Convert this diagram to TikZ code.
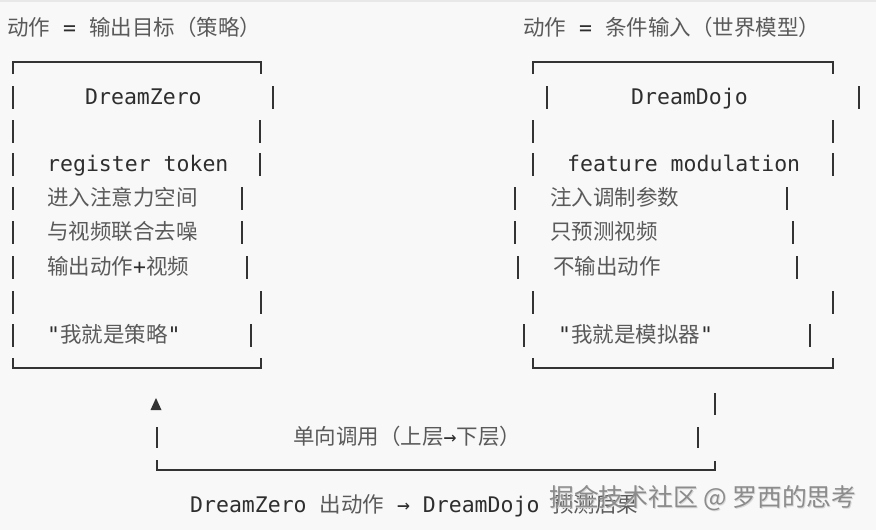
\documentclass[tikz,border=0pt]{standalone}
\usepackage{fontspec}
\setmonofont{DejaVu Sans Mono}
\newfontfamily\cjk{Noto Sans CJK SC}
\definecolor{bgc}{HTML}{F8F8F8}
\definecolor{topc}{HTML}{E8E8E8}
\definecolor{cjkc}{HTML}{5A5A5A}
\definecolor{latc}{HTML}{2E2E2E}
\definecolor{linec}{HTML}{333333}
\definecolor{wmc}{HTML}{8C8C8C}
\definecolor{wms}{HTML}{D8D8D8}
\newcommand\ZH[1]{{\cjk\color{cjkc}\relax#1}}
\newcommand\MO[1]{{\ttfamily\color{latc}\relax#1}}
\tikzset{
  txt/.style={anchor=base west, inner sep=0pt, font=\fontsize{21.5}{24}\selectfont},
  boxline/.style={draw=linec, line width=1.6pt},
  barline/.style={draw=linec, line width=1.1pt},
  wm/.style={anchor=base west, inner sep=0pt, font=\cjk\fontsize{24.8}{28}\selectfont, text=wmc},
  wmshadow/.style={wm, text=wms}
}
\begin{document}
\begin{tikzpicture}[x=1pt,y=-1pt]
\fill[bgc] (0,0) rectangle (876,530);
\useasboundingbox (0,0) rectangle (876,530);
\draw[topc, line width=2pt] (0,1) -- (876,1);

% headers
\node[txt] (hl) at (7,35.5) {\ZH{动作}\MO{ = }\ZH{输出目标（策略）}};
\node[txt] (hr) at (523,35.5) {\ZH{动作}\MO{ = }\ZH{条件输入（世界模型）}};

% left box frame
\draw[boxline] (13,74) -- (13,62) -- (261,62) -- (261,74);
\draw[boxline] (13,358) -- (13,368) -- (261,368) -- (261,358);
% left box bars
\foreach \y/\r in {97/273, 131/260, 164/260, 198/242, 232/242, 267/247, 302/261, 335/251}{
  \draw[barline] (13,\y-11) -- (13,\y+12);
  \draw[barline] (\r,\y-11) -- (\r,\y+12);
}
% left box text
\node[txt] (dz) at (85,104.5) {\MO{DreamZero}};
\node[txt] (rt) at (47,171.5) {\MO{register token}};
\node[txt] (l4) at (47,205.5) {\ZH{进入注意力空间}};
\node[txt] (l5) at (47,239.5) {\ZH{与视频联合去噪}};
\node[txt] (l6) at (47,274.5) {\ZH{输出动作}\MO{+}\ZH{视频}};
\node[txt] (l8) at (47,342.5) {\MO{"}\ZH{我就是策略}\MO{"}};

% right box frame
\draw[boxline] (533,74) -- (533,62) -- (833,62) -- (833,74);
\draw[boxline] (533,358) -- (533,368) -- (833,368) -- (833,358);
% right box bars
\foreach \y/\l/\r in {97/547/859, 131/533/833, 164/533/833, 198/515/787, 232/515/793, 267/518/797, 302/533/833, 335/524/810}{
  \draw[barline] (\l,\y-11) -- (\l,\y+12);
  \draw[barline] (\r,\y-11) -- (\r,\y+12);
}
% right box text
\node[txt] (dd) at (631,104.5) {\MO{DreamDojo}};
\node[txt] (fm) at (567,171.5) {\MO{feature modulation}};
\node[txt] (r4) at (550,205.5) {\ZH{注入调制参数}};
\node[txt] (r5) at (550,239.5) {\ZH{只预测视频}};
\node[txt] (r6) at (553,274.5) {\ZH{不输出动作}};
\node[txt] (r8) at (558,342.5) {\MO{"}\ZH{我就是模拟器}\MO{"}};

% bottom bracket
\fill[linec] (150.5,410) -- (161.5,410) -- (156,398) -- cycle;
\draw[barline] (157,427) -- (157,448);
\draw[barline] (715,393) -- (715,415);
\draw[barline] (698,427) -- (698,448);
\draw[boxline] (157,460) -- (157,470) -- (715,470) -- (715,461);
\node[txt] (call) at (293,444.5) {\ZH{单向调用（上层}\MO{→}\ZH{下层）}};

% bottom caption
\node[txt] (cap) at (190,512.5) {\MO{DreamZero }\ZH{出动作}\MO{ → DreamDojo }\ZH{预测后果}};

% watermark
\node[wmshadow] (wmks) at (550,507.5) {掘金技术社区 @ 罗西的思考};
\node[wm] (wmk) at (549,506.5) {掘金技术社区 @ 罗西的思考};
\end{tikzpicture}
\end{document}
